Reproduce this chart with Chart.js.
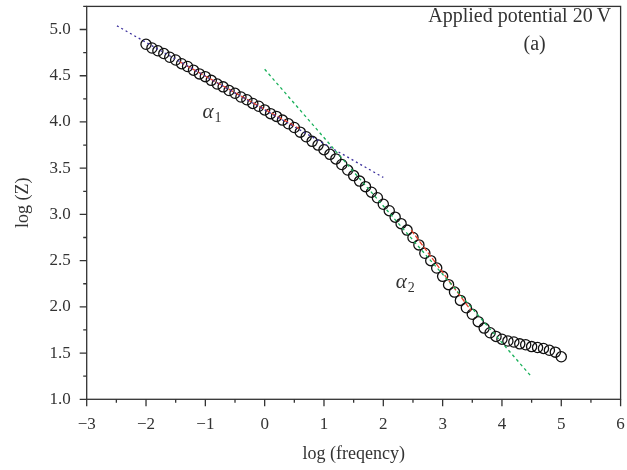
<!DOCTYPE html>
<html>
<head>
<meta charset="utf-8">
<script src="https://cdn.jsdelivr.net/npm/chart.js@4.4.0/dist/chart.umd.min.js"></script>
<style>
  html, body { margin: 0; padding: 0; background: #fff; }
  #wrap { width: 627px; height: 470px; }
</style>
</head>
<body>
<div id="wrap"><canvas id="chart" width="627" height="470"></canvas></div>
<script>
'use strict';

// measured points, log(frequency) vs log(Z)
const logFreq = [
  -2.0, -1.9, -1.8, -1.7, -1.6, -1.5, -1.4, -1.3, -1.2, -1.1,
  -1.0, -0.9, -0.8, -0.7, -0.6, -0.5, -0.4, -0.3, -0.2, -0.1,
  0.0, 0.1, 0.2, 0.3, 0.4, 0.5, 0.6, 0.7, 0.8, 0.9,
  1.0, 1.1, 1.2, 1.3, 1.4, 1.5, 1.6, 1.7, 1.8, 1.9,
  2.0, 2.1, 2.2, 2.3, 2.4, 2.5, 2.6, 2.7, 2.8, 2.9,
  3.0, 3.1, 3.2, 3.3, 3.4, 3.5, 3.6, 3.7, 3.8, 3.9,
  4.0, 4.1, 4.2, 4.3, 4.4, 4.5, 4.6, 4.7, 4.8, 4.9,
  5.0
];
const logZ = [
  4.84, 4.80, 4.77, 4.74, 4.70, 4.67, 4.63, 4.60, 4.56, 4.52,
  4.49, 4.45, 4.41, 4.38, 4.34, 4.31, 4.27, 4.24, 4.20, 4.17,
  4.13, 4.09, 4.06, 4.02, 3.98, 3.94, 3.89, 3.84, 3.79, 3.75,
  3.70, 3.65, 3.60, 3.54, 3.48, 3.42, 3.36, 3.30, 3.24, 3.18,
  3.11, 3.04, 2.97, 2.90, 2.83, 2.75, 2.67, 2.58, 2.50, 2.42,
  2.33, 2.24, 2.16, 2.07, 1.99, 1.92, 1.84, 1.77, 1.72, 1.68,
  1.65, 1.63, 1.62, 1.60, 1.59, 1.57, 1.56, 1.55, 1.53, 1.51,
  1.46
];

// fitted lines (start / end)
const blueFitX = [-2.49, 2.0];
const blueFitY = [5.04, 3.40];
const greenFitX = [0.0, 4.49];
const greenFitY = [4.57, 1.25];
const redFit1X = [-1.43, 0.58];
const redFit1Y = [4.65, 3.93];
const redFit2X = [2.47, 3.48];
const redFit2Y = [2.83, 1.96];

// axes
const xTicks = [-3, -2, -1, 0, 1, 2, 3, 4, 5, 6];
const yTicks = [1.0, 1.5, 2.0, 2.5, 3.0, 3.5, 4.0, 4.5, 5.0];

const SERIF = '"Liberation Serif", "DejaVu Serif", serif';
const INK = '#333';

function pairs(xs, ys) {
  return xs.map((x, i) => ({x: x, y: ys[i]}));
}

function fitLine(xs, ys, color, dash) {
  return {
    data: pairs(xs, ys),
    showLine: true,
    borderColor: color,
    borderWidth: 1.3,
    borderDash: dash,
    pointRadius: 0,
    fill: false
  };
}

// text placed in data units
const notes = [
  {text: 'Applied potential 20\u2009V', x: 5.84, y: 5.14, align: 'right'},
  {text: '(a)', x: 4.55, y: 4.84, align: 'center'}
];
const alphas = [
  {sub: '1', x: -1.05, y: 4.10},
  {sub: '2', x: 2.21, y: 2.26}
];

const frame = {
  id: 'frame',
  afterDraw(chart) {
    const ctx = chart.ctx;
    const a = chart.chartArea;
    const xs = chart.scales.x;
    const ys = chart.scales.y;
    ctx.save();
    ctx.strokeStyle = INK;
    ctx.lineWidth = 1.3;
    ctx.strokeRect(a.left, a.top, a.right - a.left, a.bottom - a.top);

    // outward tick marks, long on labelled values
    ctx.beginPath();
    xs.ticks.forEach(t => {
      const px = xs.getPixelForValue(t.value);
      const len = xTicks.includes(t.value) ? 7 : 3.5;
      ctx.moveTo(px, a.bottom);
      ctx.lineTo(px, a.bottom + len);
    });
    ys.ticks.forEach(t => {
      const py = ys.getPixelForValue(t.value);
      const len = yTicks.includes(t.value) ? 7 : 3.5;
      ctx.moveTo(a.left, py);
      ctx.lineTo(a.left - len, py);
    });
    ctx.stroke();

    ctx.fillStyle = INK;
    ctx.textBaseline = 'middle';
    ctx.font = '20px ' + SERIF;
    notes.forEach(n => {
      ctx.textAlign = n.align;
      ctx.fillText(n.text, xs.getPixelForValue(n.x), ys.getPixelForValue(n.y));
    });

    ctx.textAlign = 'left';
    alphas.forEach(n => {
      const px = xs.getPixelForValue(n.x);
      const py = ys.getPixelForValue(n.y);
      ctx.font = 'italic 21px ' + SERIF;
      ctx.fillText('\u03b1', px, py);
      const w = ctx.measureText('\u03b1').width;
      ctx.font = '14px ' + SERIF;
      ctx.fillText(n.sub, px + w + 1, py + 6);
    });
    ctx.restore();
  }
};

new Chart(document.getElementById('chart'), {
  type: 'scatter',
  data: {
    datasets: [
      fitLine(blueFitX, blueFitY, '#3b2f9c', [2, 3]),
      fitLine(greenFitX, greenFitY, '#19b05a', [3, 3]),
      fitLine(redFit1X, redFit1Y, '#e8402a', [5, 2]),
      fitLine(redFit2X, redFit2Y, '#e8402a', [5, 2]),
      {
        data: pairs(logFreq, logZ),
        pointRadius: 5.1,
        pointBorderWidth: 1.3,
        pointBorderColor: '#111',
        pointBackgroundColor: 'rgba(255,255,255,0)',
        showLine: false
      }
    ]
  },
  options: {
    responsive: false,
    animation: false,
    devicePixelRatio: 1,
    layout: {padding: {top: 6, right: 4.7, left: 0, bottom: 0}},
    plugins: {legend: {display: false}, tooltip: {enabled: false}},
    scales: {
      x: {
        type: 'linear',
        min: -3,
        max: 6,
        afterFit: s => {
          s.height = 70.7;
          s.paddingLeft = 0;
          s.paddingRight = 0;
        },
        grid: {display: false, drawTicks: false},
        border: {display: false},
        ticks: {
          stepSize: 0.5,
          autoSkip: false,
          maxRotation: 0,
          padding: 15,
          color: INK,
          font: {family: SERIF, size: 17},
          callback: v => xTicks.includes(v) ? (v < 0 ? '\u2212' + Math.abs(v) : String(v)) : ''
        },
        title: {
          display: true,
          text: 'log (freqency)',
          color: INK,
          font: {family: SERIF, size: 18},
          padding: {top: 0, bottom: 5}
        }
      },
      y: {
        type: 'linear',
        min: 1.0,
        max: 5.25,
        afterFit: s => {
          s.width = 86.7;
          s.paddingTop = 0;
          s.paddingBottom = 0;
        },
        grid: {display: false, drawTicks: false},
        border: {display: false},
        ticks: {
          stepSize: 0.25,
          autoSkip: false,
          padding: 16,
          color: INK,
          font: {family: SERIF, size: 17},
          callback: v => yTicks.includes(v) ? v.toFixed(1) : ''
        },
        title: {
          display: true,
          text: 'log (Z)',
          color: INK,
          font: {family: SERIF, size: 18},
          padding: {top: 12, bottom: 0}
        }
      }
    }
  },
  plugins: [frame]
});
</script>
</body>
</html>
